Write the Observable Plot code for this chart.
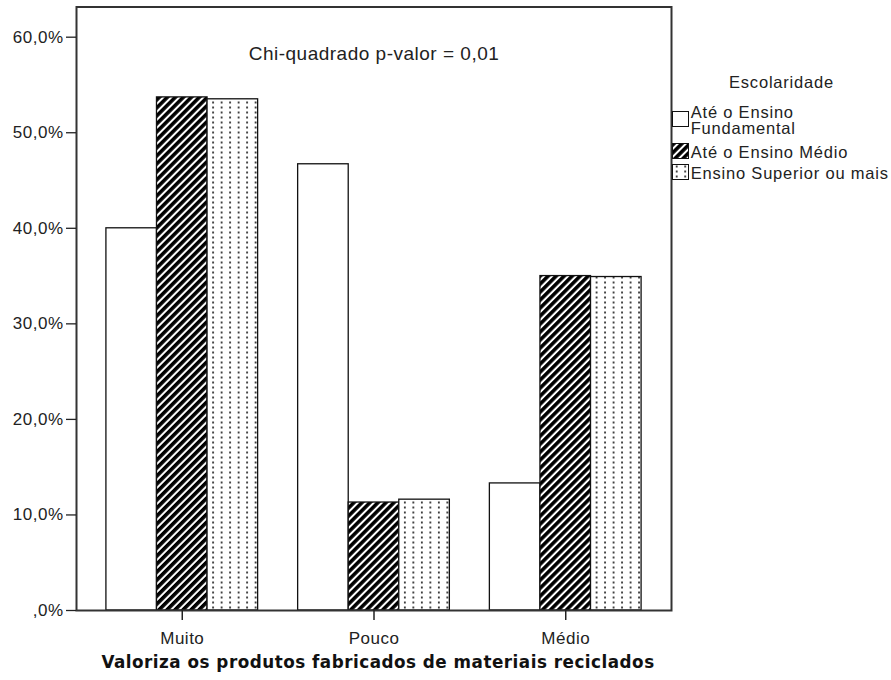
<!DOCTYPE html>
<html>
<head>
<meta charset="utf-8">
<script src="https://cdn.jsdelivr.net/npm/d3@7"></script>
<script src="https://cdn.jsdelivr.net/npm/@observablehq/plot@0.6"></script>
<style>
  body { margin: 0; background: #fff; }
  #wrap { position: relative; width: 891px; height: 680px; overflow: hidden; }
  #chart svg text { letter-spacing: 0.5px; }
  #legend { position: absolute; left: 672px; top: 73.5px; width: 219px;
    font-family: "Liberation Sans", Arial, sans-serif; font-size: 16.5px; letter-spacing: 0.8px; color: #222; }
  #legend .title { text-align: center; line-height: 16px; margin-bottom: 15.5px; }
  #legend .row { display: flex; align-items: center; line-height: 15.5px; }
  #legend .row svg { flex: none; transform: translateY(-2px); }
  #legend .row span { width: 201px; padding-left: 1.7px; }
</style>
</head>
<body>
<svg width="0" height="0" style="position:absolute">
  <defs>
    <pattern id="hatch" patternUnits="userSpaceOnUse" width="5.66" height="5.66" patternTransform="rotate(45)">
      <rect width="5.66" height="5.66" fill="#fff"></rect>
      <rect width="3.6" height="5.66" fill="#000"></rect>
    </pattern>
    <pattern id="dots" patternUnits="userSpaceOnUse" width="8.5" height="5">
      <rect width="8.5" height="5" fill="#fff"></rect>
      <rect x="4" y="1.5" width="1.4" height="2" fill="#000"></rect>
    </pattern>
  </defs>
</svg>
<div id="wrap">
  <div id="chart"></div>
  <div id="legend"></div>
</div>
<script>
const categories = ["Muito", "Pouco", "Médio"];
const series = ["Até o Ensino Fundamental", "Até o Ensino Médio", "Ensino Superior ou mais"];
const fundamental = [40.0, 46.7, 13.3];
const medio = [53.7, 11.3, 35.0];
const superior = [53.5, 11.6, 34.9];
const yTicks = [0, 10, 20, 30, 40, 50, 60];
const yTickLabels = [",0%", "10,0%", "20,0%", "30,0%", "40,0%", "50,0%", "60,0%"];
const fills = ["#fff", "url(#hatch)", "url(#dots)"];
const annotation = "Chi-quadrado p-valor = 0,01";
const xTitle = "Valoriza os produtos fabricados de materiais reciclados";
const legendTitle = "Escolaridade";

const seriesValues = [fundamental, medio, superior];
const table = categories.flatMap((c, i) =>
  series.map((s, j) => ({category: c, series: s, value: seriesValues[j][i]})));

const W = 891, H = 680, mL = 76, mR = 220, mT = 6.5, mB = 70;
const padIn = 0.2087, padOut = 0.156;
const tickLen = 10;
// same band layout as the fx scale: gap between the frame edge and the first/last facet
const fxBand = d3.scaleBand(categories, [mL, W - mR]).paddingInner(padIn).paddingOuter(padOut);
const axisShift = mL - fxBand(categories[0]);

const chart = Plot.plot({
  width: W,
  height: H,
  marginLeft: mL,
  marginRight: mR,
  marginTop: mT,
  marginBottom: mB,
  style: {fontFamily: "Liberation Sans, Arial, sans-serif", fontSize: "17px", color: "#222", background: "#fff"},
  fx: {domain: categories, paddingInner: padIn, paddingOuter: padOut, round: false, label: null},
  x: {domain: series, padding: 0, round: false, axis: null},
  y: {domain: [0, 63.16], label: null},
  color: {domain: series, range: fills},
  marks: [
    Plot.barY(table, {fx: "category", x: "series", y: "value", fill: "series", stroke: "#111", strokeWidth: 1.3}),
    Plot.frame({facet: "super", stroke: "#333", strokeWidth: 2, insetLeft: axisShift, insetRight: axisShift}),
    Plot.axisY({ticks: yTicks, tickFormat: d => yTickLabels[yTicks.indexOf(d)], dx: axisShift,
      tickSize: tickLen, tickPadding: 3, fontSize: 17, label: null, stroke: "#222", strokeWidth: 1.3}),
    // category tick marks below the baseline: centred on the middle series band of each facet
    Plot.ruleX(categories, {fx: d => d, x: () => series[1], y1: 0, y2: 0, insetBottom: -tickLen,
      stroke: "#222", strokeWidth: 1.5}),
    Plot.axisFx({anchor: "bottom", tickSize: 0, tickPadding: tickLen + 11, fontSize: 17, label: null}),
    Plot.text([annotation], {text: d => d, frameAnchor: "top", dy: 46.5, lineAnchor: "middle",
      fontSize: 19, fill: "#222", facet: "super"}),
    Plot.text([xTitle], {text: d => d, frameAnchor: "bottom", dy: 52, dx: 4, lineAnchor: "middle",
      fontSize: 16.8, fontWeight: "bold", fontFamily: "DejaVu Sans", fill: "#111", facet: "super"})
  ]
});
document.getElementById("chart").appendChild(chart);

const legend = d3.select("#legend");
legend.append("div").attr("class", "title").text(legendTitle);
series.forEach((s, i) => {
  const row = legend.append("div").attr("class", "row")
    .style("margin-bottom", i === 0 ? "9px" : i === 1 ? "5px" : "0px");
  const sw = row.append("svg").attr("width", 17).attr("height", 16);
  sw.append("rect").attr("x", 0.5).attr("y", 0.5).attr("width", 16).attr("height", 15)
    .attr("fill", fills[i]).attr("stroke", "#111").attr("stroke-width", 1);
  row.append("span").text(s);
});
</script>
</body>
</html>
